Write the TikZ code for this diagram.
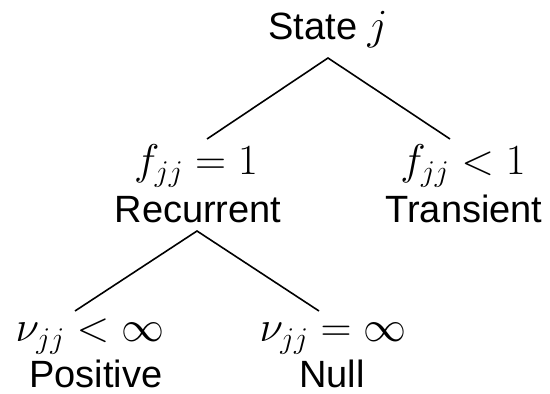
\RequirePackage{fix-cm}
\documentclass[tikz,border=0pt]{standalone}
\usepackage{fontspec}
\setmainfont{Liberation Sans}
\begin{document}
\begin{tikzpicture}[x=1pt,y=1pt,
  lab/.style={anchor=base, inner sep=0pt, font=\fontsize{38}{46}\selectfont},
  mlab/.style={anchor=base, inner sep=0pt, font=\fontsize{43}{50}\selectfont},
  edge/.style={line width=1.6pt}]
\useasboundingbox (0,0) rectangle (550,394);
\node[lab] (state) at (328,354) {State {\fontsize{43}{50}\selectfont$j$}};
\node[mlab] (f1) at (196,219) {$f_{jj}=1$};
\node[lab] (rec) at (198,171) {Recurrent};
\node[mlab] (f2) at (463,219) {$f_{jj}<1$};
\node[lab] (trans) at (464,171) {Transient};
\node[mlab] (nu1) at (90,52) {$\nu_{jj}<\infty$};
\node[lab] (pos) at (96,6) {Positive};
\node[mlab] (nu2) at (333,52) {$\nu_{jj}=\infty$};
\node[lab] (null) at (332,6) {Null};
\coordinate (top) at (328,336);
\coordinate (tl) at (207,255);
\coordinate (tr) at (450,255);
\coordinate (mid) at (197,163);
\coordinate (bl) at (75,83);
\coordinate (br) at (319,83);
\draw[edge] (tl) -- (top) -- (tr);
\draw[edge] (bl) -- (mid) -- (br);
\end{tikzpicture}
\end{document}
